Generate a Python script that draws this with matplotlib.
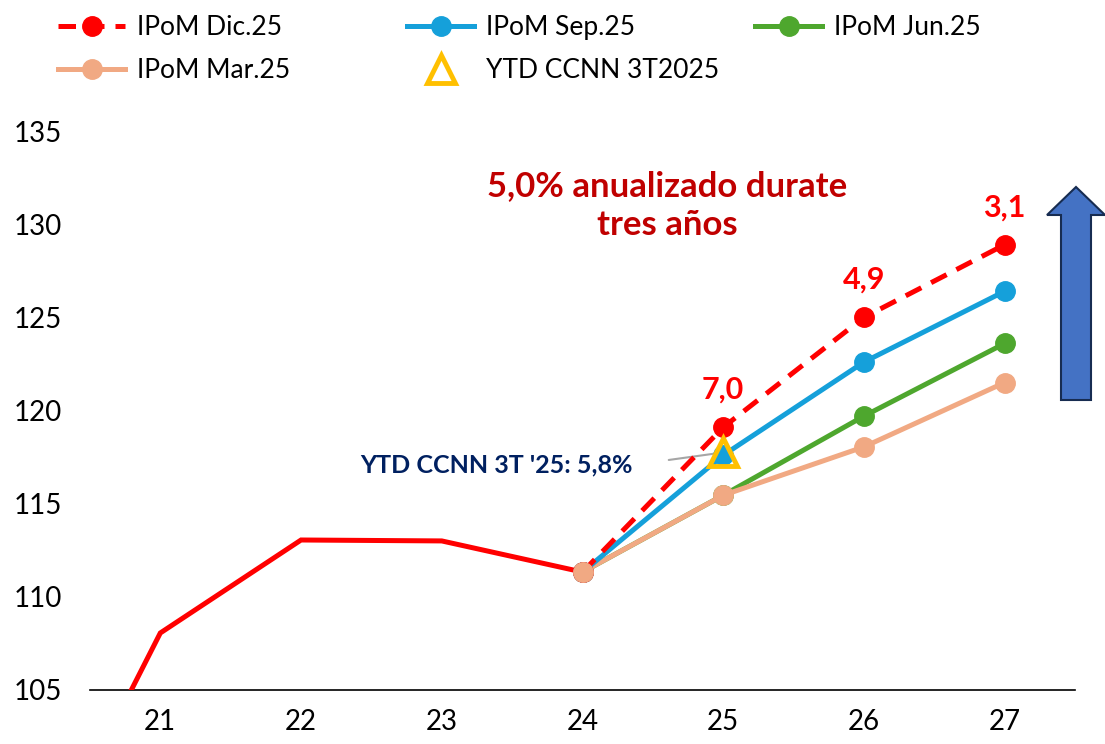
import matplotlib.pyplot as plt
from matplotlib.patches import FancyArrow

plt.rcParams["font.family"] = ["Lato", "DejaVu Sans"]

# datos (índice, años 20-27)
anios = [20, 21, 22, 23, 24]
hist = [93.2, 108.06, 113.05, 113.0, 111.33]

proy_x = [24, 25, 26, 27]
ipom_dic = [111.33, 119.1, 125.0, 128.9]
ipom_sep = [111.33, 117.6, 122.6, 126.4]
ipom_jun = [111.33, 115.45, 119.7, 123.6]
ipom_mar = [111.33, 115.45, 118.05, 121.5]
crec_dic = ["7,0", "4,9", "3,1"]

ytd_x = 25
ytd_val = 117.75

xticks = [21, 22, 23, 24, 25, 26, 27]
yticks = [105, 110, 115, 120, 125, 130, 135]

ROJO = "#FF0000"
AZUL = "#15A0DA"
VERDE = "#4EA72E"
SALMON = "#F1A983"
AMARILLO = "#FFC000"

fig = plt.figure(figsize=(11.05, 7.44), dpi=100)
ax = fig.add_axes([0.0814, 0.0726, 0.8915, 0.7513])

ax.plot(anios, hist, color=ROJO, lw=3.6, solid_joinstyle="miter", zorder=3)
l_jun, = ax.plot(proy_x, ipom_jun, color=VERDE, lw=3.6, marker="o", ms=14, zorder=4)
l_mar, = ax.plot(proy_x, ipom_mar, color=SALMON, lw=3.6, marker="o", ms=14, zorder=5)
l_sep, = ax.plot(proy_x, ipom_sep, color=AZUL, lw=3.6, marker="o", ms=14, zorder=6)
l_dic, = ax.plot(proy_x, ipom_dic, color=ROJO, lw=3.6, ls=(0, (3.5, 2.2)),
                 marker="o", ms=14, zorder=7)
# el punto del 24 queda bajo el marcador salmón
ax.plot(proy_x[0], ipom_mar[0], "o", color=SALMON, ms=14, zorder=8)
l_ytd, = ax.plot(ytd_x, ytd_val, ls="none", marker="^", ms=20, mfc="none",
                 mec=AMARILLO, mew=3.5, zorder=9)

for x, y, t in zip(proy_x[1:], ipom_dic[1:], crec_dic):
    ax.annotate(t, (x, y), xytext=(0, 27), textcoords="offset points",
                ha="center", va="center", color=ROJO, fontsize=22, fontweight="bold")

ax.annotate("YTD CCNN 3T '25: 5,8%", (ytd_x, ytd_val), xytext=(-65, -9),
            textcoords="offset points", ha="right", va="center",
            color="#002060", fontsize=18, fontweight="bold",
            arrowprops=dict(arrowstyle="-", color="#A6A6A6", lw=1.5,
                            shrinkA=24, shrinkB=0, relpos=(1, 0.5)))

ax.text(24.6, 131.0, "5,0% anualizado durate\ntres años", ha="center", va="center",
        color="#C00000", fontsize=25, fontweight="bold", linespacing=1.3)

ax.set_xlim(20.5, 27.5)
ax.set_ylim(105, 135)
ax.set_xticks(xticks)
ax.set_yticks(yticks)
ax.tick_params(length=0, labelsize=20, pad=20)
ax.tick_params(axis="x", pad=14)
for s in ["top", "right", "left"]:
    ax.spines[s].set_visible(False)
ax.spines["bottom"].set_linewidth(1.2)

# leyenda en tres columnas
ley_kw = dict(frameon=False, fontsize=19, handlelength=2.55, handletextpad=0.45,
              borderpad=0, borderaxespad=0, labelspacing=0.7, numpoints=1, loc="upper left")
y_ley = 1 - 15 / 744
fig.legend([l_dic, l_mar], ["IPoM Dic.25", "IPoM Mar.25"],
           bbox_to_anchor=(58 / 1105, y_ley), **ley_kw)
fig.legend([l_sep, l_ytd], ["IPoM Sep.25", "YTD CCNN 3T2025"],
           bbox_to_anchor=(407 / 1105, y_ley), **ley_kw)
fig.legend([l_jun], ["IPoM Jun.25"],
           bbox_to_anchor=(755 / 1105, y_ley), **ley_kw)

# flecha azul
fig.patches.append(FancyArrow(1076 / 1105, 1 - 400 / 744, 0, 0.2863, width=30 / 1105,
                              head_width=58 / 1105, head_length=28 / 744,
                              length_includes_head=True, transform=fig.transFigure,
                              facecolor="#4472C4", edgecolor="#172C51", lw=1.5))

fig.savefig("out.png", dpi=100)
plt.close(fig)
